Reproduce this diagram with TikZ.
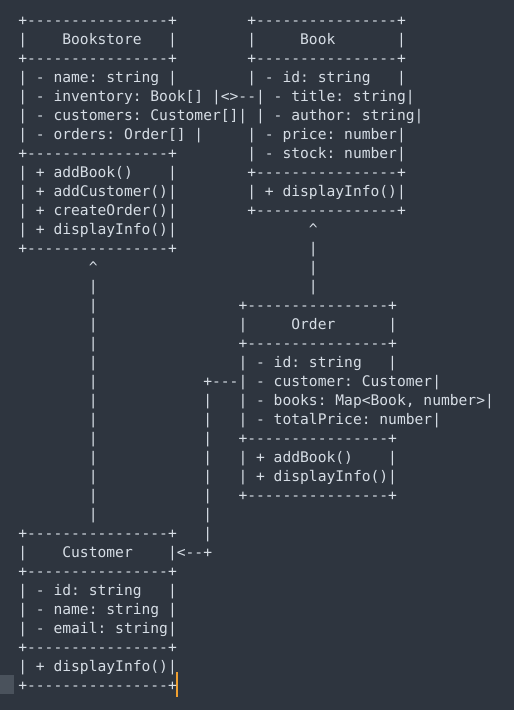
\documentclass[tikz,border=0pt]{standalone}
\usepackage{fontspec}
\setmonofont{DejaVu Sans Mono}
\definecolor{bg}{HTML}{2E353F}
\definecolor{fg}{HTML}{D6DDE5}
\definecolor{cursorcol}{HTML}{F0A030}
\definecolor{guttercol}{HTML}{4A525C}
\tikzset{ln/.style={anchor=base west, inner sep=0pt, outer sep=0pt, text=fg,
  font=\ttfamily\fontsize{14.63}{19}\selectfont}}
\newcommand\asciiline[3]{\node[ln] (#1) at (0.7,{684.5-19*#2}) {#3};}
\begin{document}
\begin{tikzpicture}[x=1pt,y=1pt]
\fill[bg] (0,0) rectangle (514,710);
\useasboundingbox (0,0) rectangle (514,710);
\fill[guttercol] (0,16) rectangle (14,35);
\fill[cursorcol] (176,13) rectangle (178,38);
\asciiline{l0}{0}{~~+----------------+~~~~~~~~+----------------+}
\asciiline{l1}{1}{~~|~~~~Bookstore~~~|~~~~~~~~|~~~~~Book~~~~~~~|}
\asciiline{l2}{2}{~~+----------------+~~~~~~~~+----------------+}
\asciiline{l3}{3}{~~|~-~name:~string~|~~~~~~~~|~-~id:~string~~~|}
\asciiline{l4}{4}{~~|~-~inventory:~Book[]~|<>--|~-~title:~string|}
\asciiline{l5}{5}{~~|~-~customers:~Customer[]|~|~-~author:~string|}
\asciiline{l6}{6}{~~|~-~orders:~Order[]~|~~~~~|~-~price:~number|}
\asciiline{l7}{7}{~~+----------------+~~~~~~~~|~-~stock:~number|}
\asciiline{l8}{8}{~~|~+~addBook()~~~~|~~~~~~~~+----------------+}
\asciiline{l9}{9}{~~|~+~addCustomer()|~~~~~~~~|~+~displayInfo()|}
\asciiline{l10}{10}{~~|~+~createOrder()|~~~~~~~~+----------------+}
\asciiline{l11}{11}{~~|~+~displayInfo()|~~~~~~~~~~~~~~~\textasciicircum}
\asciiline{l12}{12}{~~+----------------+~~~~~~~~~~~~~~~|}
\asciiline{l13}{13}{~~~~~~~~~~\textasciicircum~~~~~~~~~~~~~~~~~~~~~~~~|}
\asciiline{l14}{14}{~~~~~~~~~~|~~~~~~~~~~~~~~~~~~~~~~~~|}
\asciiline{l15}{15}{~~~~~~~~~~|~~~~~~~~~~~~~~~~+----------------+}
\asciiline{l16}{16}{~~~~~~~~~~|~~~~~~~~~~~~~~~~|~~~~~Order~~~~~~|}
\asciiline{l17}{17}{~~~~~~~~~~|~~~~~~~~~~~~~~~~+----------------+}
\asciiline{l18}{18}{~~~~~~~~~~|~~~~~~~~~~~~~~~~|~-~id:~string~~~|}
\asciiline{l19}{19}{~~~~~~~~~~|~~~~~~~~~~~~+---|~-~customer:~Customer|}
\asciiline{l20}{20}{~~~~~~~~~~|~~~~~~~~~~~~|~~~|~-~books:~Map<Book,~number>|}
\asciiline{l21}{21}{~~~~~~~~~~|~~~~~~~~~~~~|~~~|~-~totalPrice:~number|}
\asciiline{l22}{22}{~~~~~~~~~~|~~~~~~~~~~~~|~~~+----------------+}
\asciiline{l23}{23}{~~~~~~~~~~|~~~~~~~~~~~~|~~~|~+~addBook()~~~~|}
\asciiline{l24}{24}{~~~~~~~~~~|~~~~~~~~~~~~|~~~|~+~displayInfo()|}
\asciiline{l25}{25}{~~~~~~~~~~|~~~~~~~~~~~~|~~~+----------------+}
\asciiline{l26}{26}{~~~~~~~~~~|~~~~~~~~~~~~|}
\asciiline{l27}{27}{~~+----------------+~~~|}
\asciiline{l28}{28}{~~|~~~~Customer~~~~|<--+}
\asciiline{l29}{29}{~~+----------------+}
\asciiline{l30}{30}{~~|~-~id:~string~~~|}
\asciiline{l31}{31}{~~|~-~name:~string~|}
\asciiline{l32}{32}{~~|~-~email:~string|}
\asciiline{l33}{33}{~~+----------------+}
\asciiline{l34}{34}{~~|~+~displayInfo()|}
\asciiline{l35}{35}{~~+----------------+}
\end{tikzpicture}
\end{document}
